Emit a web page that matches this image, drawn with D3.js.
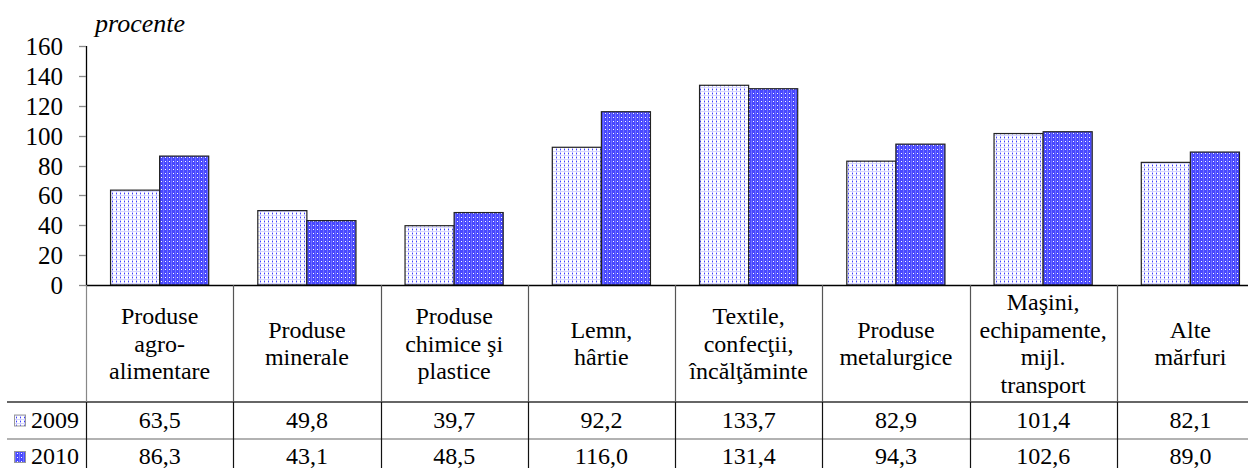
<!DOCTYPE html>
<html><head><meta charset="utf-8">
<script src="https://cdn.jsdelivr.net/npm/d3@7"></script>
<style>
html,body{margin:0;padding:0;background:#fff;}
</style></head>
<body><svg id="c" width="1248" height="468"></svg>
<script>
const categories = [
  ["Produse","agro-","alimentare"],
  ["Produse","minerale"],
  ["Produse","chimice şi","plastice"],
  ["Lemn,","hârtie"],
  ["Textile,","confecţii,","încălţăminte"],
  ["Produse","metalurgice"],
  ["Maşini,","echipamente,","mijl.","transport"],
  ["Alte","mărfuri"]
];
const seriesNames = ["2009","2010"];
const values2009 = [63.5,49.8,39.7,92.2,133.7,82.9,101.4,82.1];
const values2010 = [86.3,43.1,48.5,116.0,131.4,94.3,102.6,89.0];
const yTicks = [0,20,40,60,80,100,120,140,160];
const unitLabel = "procente";

(function(){
const FONT = '"Liberation Serif"';
const svg = d3.select("#c");
const defs = svg.append("defs");
const p1 = defs.append("pattern").attr("id","p2009").attr("patternUnits","userSpaceOnUse").attr("width",4).attr("height",4);
p1.append("rect").attr("width",4).attr("height",4).attr("fill","#ffffff");
p1.append("rect").attr("x",0).attr("y",0).attr("width",1).attr("height",4).attr("fill","#b4b4ff");
p1.append("rect").attr("x",0).attr("y",1).attr("width",1).attr("height",1).attr("fill","#3c3cff");
p1.append("rect").attr("x",2).attr("y",3).attr("width",1).attr("height",1).attr("fill","#6a6aff");
p1.append("rect").attr("x",0).attr("y",3).attr("width",4).attr("height",1).attr("fill","#d6d6ff");
const p2 = defs.append("pattern").attr("id","p2010").attr("patternUnits","userSpaceOnUse").attr("width",4).attr("height",4);
p2.append("rect").attr("width",4).attr("height",4).attr("fill","#4848ff");
p2.append("rect").attr("x",1).attr("y",1).attr("width",1).attr("height",1).attr("fill","#ffffff");
p2.append("rect").attr("x",3).attr("y",3).attr("width",1).attr("height",1).attr("fill","#d0d0ff");
p2.append("rect").attr("x",3).attr("y",0).attr("width",1).attr("height",4).attr("fill","#7070ff");
const fills = ["url(#p2009)","url(#p2010)"];

const left = 86, right = 1264, plotTop = 46, base = 285;
const x0 = d3.scaleBand().domain(d3.range(categories.length)).range([left,right]).paddingInner(1/3).paddingOuter(1/6);
const x1 = d3.scaleBand().domain(seriesNames).range([0,x0.bandwidth()]);
const y = d3.scaleLinear().domain([0,160]).range([base,plotTop]);
const step = x0.step();
const bandStart = i => left + i*step;

const series = [values2009, values2010];
seriesNames.forEach((s,si)=>{
  svg.append("g").selectAll("rect").data(series[si]).join("rect")
    .attr("x",(d,i)=>x0(i)+x1(s))
    .attr("y",d=>y(d))
    .attr("width",x1.bandwidth())
    .attr("height",d=>y(0)-y(d))
    .attr("fill",fills[si])
    .attr("stroke","#222").attr("stroke-width",1.2);
});

// y axis drawn manually via the scale (so text carries the serif font directly)
const yg = svg.append("g");
yg.append("line").attr("x1",left+0.5).attr("x2",left+0.5).attr("y1",plotTop).attr("y2",base).attr("stroke","#000").attr("stroke-width",1.3);
yTicks.forEach(v=>{
  yg.append("line").attr("x1",left-7).attr("x2",left).attr("y1",Math.round(y(v))+0.5).attr("y2",Math.round(y(v))+0.5).attr("stroke","#888").attr("stroke-width",1.3);
  yg.append("text").attr("x",left-23).attr("y",y(v)+9).attr("text-anchor","end").attr("font-size",25).attr("font-family",FONT).text(d3.format("d")(v));
});

svg.append("text").attr("x",95).attr("y",32).attr("font-size",26).attr("font-style","italic").attr("font-family",FONT).text(unitLabel);

svg.append("line").attr("x1",left).attr("x2",1248).attr("y1",base+0.5).attr("y2",base+0.5).attr("stroke","#000").attr("stroke-width",1.3);

const hdrBottom = 402, row1Bottom = 439, row2Bottom = 476;
svg.append("line").attr("x1",7).attr("x2",1248).attr("y1",hdrBottom).attr("y2",hdrBottom).attr("stroke","#333").attr("stroke-width",1.3);
svg.append("line").attr("x1",7).attr("x2",1248).attr("y1",row1Bottom).attr("y2",row1Bottom).attr("stroke","#999").attr("stroke-width",1.6);
for(let i=0;i<=categories.length;i++){
  const xx = Math.round(bandStart(i))+0.5;
  svg.append("line").attr("x1",xx).attr("x2",xx).attr("y1",base).attr("y2",hdrBottom).attr("stroke",i===0?"#888":"#555").attr("stroke-width",1.2);
  svg.append("line").attr("x1",xx).attr("x2",xx).attr("y1",hdrBottom).attr("y2",row2Bottom).attr("stroke","#111").attr("stroke-width",1.2);
}
const lh = 27.4, hdrMid = (base+hdrBottom)/2;
categories.forEach((lines,i)=>{
  const cx = bandStart(i)+step/2;
  lines.forEach((ln,k)=>{
    svg.append("text").attr("x",cx).attr("y",hdrMid + (k-(lines.length-1)/2)*lh + 8)
      .attr("text-anchor","middle").attr("font-size",24).attr("font-family",FONT).text(ln);
  });
});
const fmt = v => d3.format(".1f")(v).replace(".",",");
const rowBase = [428, 464];
const rowMids = [(hdrBottom+row1Bottom)/2, 457];
series.forEach((vals,si)=>{
  vals.forEach((d,i)=>{
    svg.append("text").attr("x",bandStart(i)+step/2).attr("y",rowBase[si])
      .attr("text-anchor","middle").attr("font-size",24).attr("font-family",FONT).text(fmt(d));
  });
  svg.append("rect").attr("x",14.5).attr("y",rowMids[si]-5.5).attr("width",11).attr("height",11)
    .attr("fill",fills[si]).attr("stroke","#999").attr("stroke-width",1);
  svg.append("text").attr("x",31).attr("y",rowBase[si]).attr("font-size",24).attr("font-family",FONT).text(seriesNames[si]);
});
})();
</script></body></html>
